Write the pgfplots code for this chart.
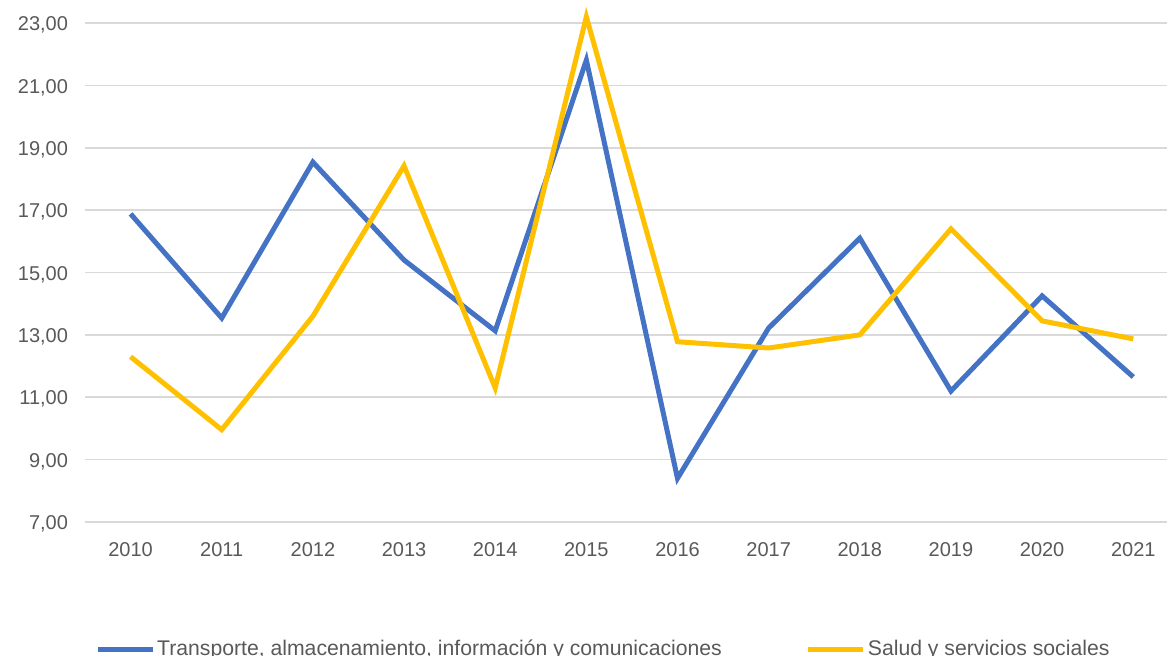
\documentclass[border=0pt]{standalone}
\usepackage{fontspec}
\setmainfont{Liberation Sans}
\usepackage{pgfplots}
\pgfplotsset{compat=1.18}
\definecolor{cblue}{HTML}{4472C4}
\definecolor{cyel}{HTML}{FFC000}
\definecolor{ctxt}{HTML}{595959}
\definecolor{cgrid}{HTML}{D9D9D9}
\begin{document}
\begin{tikzpicture}
\useasboundingbox (-42.5pt,-66.5pt) rectangle (541pt,261pt);
\begin{axis}[
  scale only axis, width=541pt, height=249.5pt,
  xmin=-0.5, xmax=11.37, ymin=7, ymax=23,
  clip=false,
  axis line style={draw=none},
  ytick={7,9,...,23},
  xtick={0,...,11},
  xticklabels={2010,2011,2012,2013,2014,2015,2016,2017,2018,2019,2020,2021},
  major tick length=0pt,
  ymajorgrids, grid style={cgrid, line width=0.8pt},
  /pgf/number format/assume math mode=true,
  /pgf/number format/.cd, fixed, fixed zerofill, precision=2, use comma, 1000 sep={},
  /pgfplots/.cd,
  tick label style={font=\fontsize{10}{12}\selectfont, text=ctxt},
  yticklabel style={xshift=-5pt, yshift=-1pt},
  xticklabel style={yshift=-6.5pt},
  legend columns=2,
  legend style={at={(0.479,0)}, anchor=center, yshift=-63.5pt, draw=none, fill=none,
    font=\fontsize{10.6}{12}\selectfont, text=ctxt,
    /tikz/every even column/.append style={column sep=41pt},
    nodes={inner xsep=1pt}},
  legend image code/.code={\draw[#1] (0pt,0pt) -- (27.5pt,0pt);},
]
\addplot[cblue, line width=2.5pt] coordinates {
(0,16.88) (1,13.54) (2,18.54) (3,15.40) (4,13.13) (5,21.81) (6,8.40) (7,13.22) (8,16.10) (9,11.20) (10,14.25) (11,11.65)};
\addlegendentry{Transporte, almacenamiento, información y comunicaciones}
\addplot[cyel, line width=2.5pt] coordinates {
(0,12.30) (1,9.96) (2,13.60) (3,18.42) (4,11.30) (5,23.20) (6,12.78) (7,12.58) (8,13.00) (9,16.40) (10,13.45) (11,12.87)};
\addlegendentry{Salud y servicios sociales}
\end{axis}
\end{tikzpicture}
\end{document}
